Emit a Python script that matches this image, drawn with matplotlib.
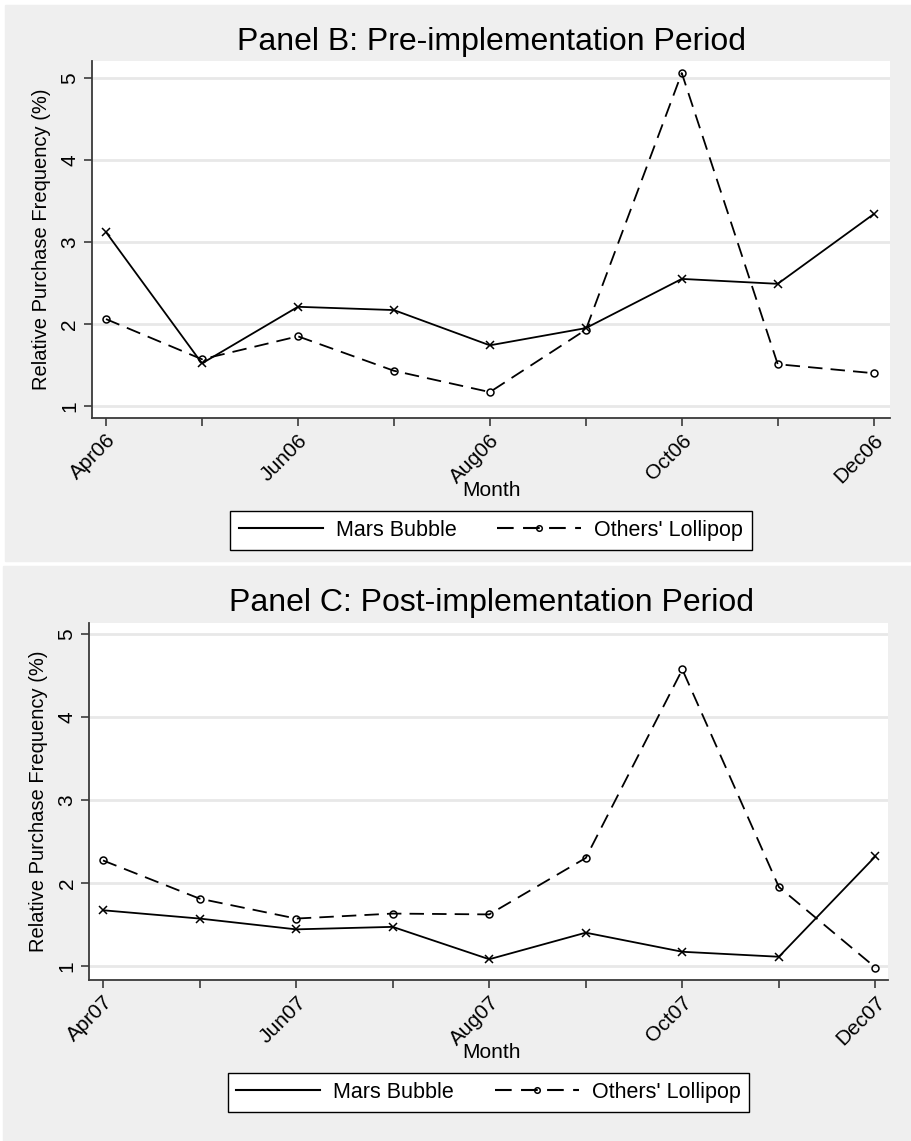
"""
Relative purchase frequency by month, pre- and post-implementation panels.
Stata-like look: grey graph region, white plot region, light horizontal grid.
"""

import matplotlib.pyplot as plt
from matplotlib.lines import Line2D
from matplotlib.patches import Rectangle

plt.rcParams['font.family'] = ['Liberation Sans', 'DejaVu Sans']

# ------------------------------------------------------------
# data
# ------------------------------------------------------------
months_b = ["Apr06", "May06", "Jun06", "Jul06", "Aug06", "Sep06", "Oct06", "Nov06", "Dec06"]
months_c = ["Apr07", "May07", "Jun07", "Jul07", "Aug07", "Sep07", "Oct07", "Nov07", "Dec07"]

mars_b = [3.12, 1.52, 2.21, 2.17, 1.74, 1.95, 2.55, 2.49, 3.34]
lolli_b = [2.06, 1.57, 1.85, 1.43, 1.17, 1.93, 5.06, 1.51, 1.40]

mars_c = [1.67, 1.57, 1.44, 1.47, 1.08, 1.40, 1.17, 1.11, 2.32]
lolli_c = [2.27, 1.81, 1.57, 1.63, 1.62, 2.30, 4.57, 1.95, 0.98]

titles = ["Panel B: Pre-implementation Period", "Panel C: Post-implementation Period"]
series_names = ["Mars Bubble", "Others' Lollipop"]
y_ticks = [1, 2, 3, 4, 5]

bg_grey = "#efefef"
grid_grey = "#e8e8e8"
axis_grey = "#3a3a3a"
dash = (0, (8, 4.5))

W, H = 911, 1141


def px_box(x0, y0, x1, y1):
    # pixel box (top-left origin) -> figure fraction [left, bottom, width, height]
    return [x0 / W, 1 - y1 / H, (x1 - x0) / W, (y1 - y0) / H]


def draw_panel(fig, box, months, mars, lolli, title, ylim, xlim, title_y, month_y, leg_box):
    ax = fig.add_axes(px_box(*box))
    ax.set_facecolor("white")
    x = list(range(len(months)))

    ax.plot(x, mars, color="black", lw=1.3, marker="x", ms=5.5, mew=1.1)
    ax.plot(x, lolli, color="black", lw=1.3, ls=dash, marker="o", ms=5,
            mfc="none", mew=1.1)

    ax.set_xlim(*xlim)
    ax.set_ylim(*ylim)
    ax.set_yticks(y_ticks)
    ax.set_yticklabels([str(v) for v in y_ticks], rotation=90, va="center", fontsize=15)
    ax.set_xticks(x)
    ax.set_xticklabels([m if i % 2 == 0 else "" for i, m in enumerate(months)],
                       rotation=45, ha="right", rotation_mode="anchor", fontsize=15)
    ax.tick_params(axis="both", direction="out", length=6, width=1.2, color=axis_grey,
                   pad=3)
    ax.grid(axis="y", color=grid_grey, lw=2)
    ax.set_axisbelow(True)
    for side in ["top", "right"]:
        ax.spines[side].set_visible(False)
    for side in ["left", "bottom"]:
        ax.spines[side].set_color(axis_grey)
        ax.spines[side].set_linewidth(1.3)

    ax.set_ylabel("Relative Purchase Frequency (%)", fontsize=14.5, labelpad=7)

    fig.text(0.539, 1 - title_y / H, title, fontsize=23, ha="center", va="center")
    fig.text(0.539, 1 - month_y / H, "Month", fontsize=15, ha="center", va="center")

    # legend keys as Stata draws them: plain line, dashed line with small circle
    handles = [
        Line2D([], [], color="black", lw=1.5),
        Line2D([], [], color="black", lw=1.5, ls=dash, marker="o", ms=4,
               mfc="none", mew=1.1),
    ]
    leg = fig.legend(handles, series_names, loc="center",
                     bbox_to_anchor=((leg_box[0] + leg_box[2]) / 2 / W,
                                     1 - (leg_box[1] + leg_box[3]) / 2 / H),
                     ncol=2, fontsize=15.5, frameon=True, fancybox=False,
                     edgecolor="black", facecolor="white", framealpha=1,
                     handlelength=3.9, columnspacing=1.9, handletextpad=0.6,
                     borderpad=0.4, borderaxespad=0)
    leg.get_frame().set_linewidth(1.0)
    return ax


def main():
    fig = plt.figure(figsize=(W / 100, H / 100), dpi=100)
    fig.patch.set_facecolor("white")

    # grey graph regions of the two stacked Stata graphs
    fig.patches.append(Rectangle((5 / W, 1 - 561 / H), (W - 5) / W, 556 / H,
                                 transform=fig.transFigure, color=bg_grey, zorder=-10))
    fig.patches.append(Rectangle((3 / W, 0), (W - 3) / W, 1 - 566 / H,
                                 transform=fig.transFigure, color=bg_grey, zorder=-10))

    draw_panel(fig, (92, 61, 890, 418), months_b, mars_b, lolli_b, titles[0],
               ylim=(0.854, 5.207), xlim=(-0.146, 8.17),
               title_y=42, month_y=491, leg_box=(228, 512, 754, 549))
    draw_panel(fig, (89, 623, 888, 980), months_c, mars_c, lolli_c, titles[1],
               ylim=(0.83, 5.13), xlim=(-0.145, 8.13),
               title_y=603, month_y=1053, leg_box=(225, 1074, 752, 1111))

    fig.savefig("out.png", dpi=100, facecolor=fig.get_facecolor())


if __name__ == "__main__":
    main()
